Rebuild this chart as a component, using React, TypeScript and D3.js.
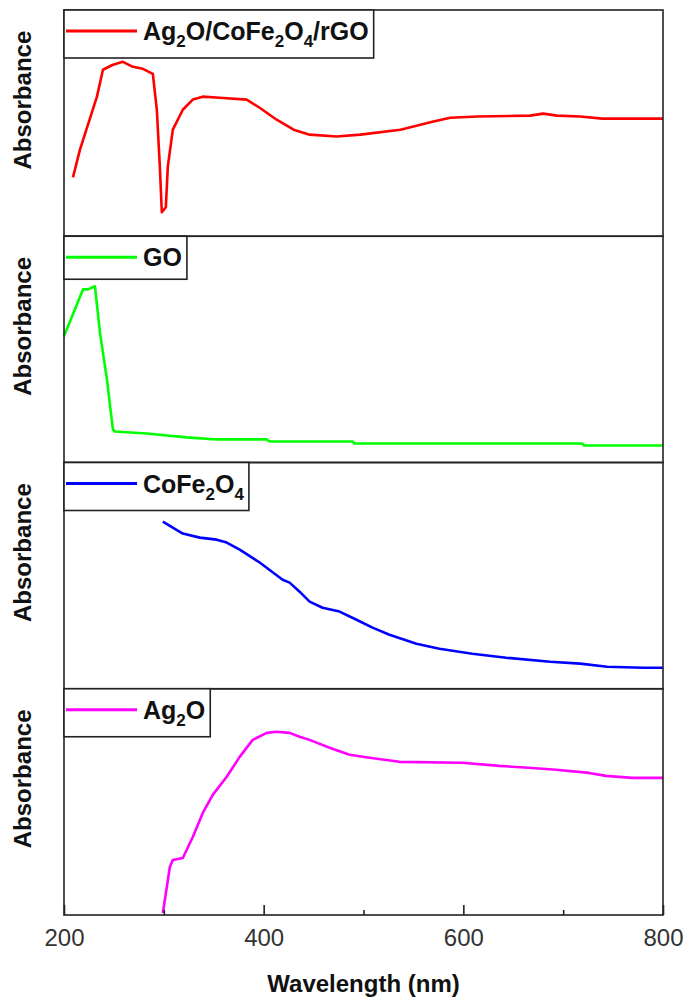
import { useRef, useEffect } from 'react'
import * as d3 from 'd3'

// legend labels (digits become subscripts)
const labels = ['Ag2O/CoFe2O4/rGO', 'GO', 'CoFe2O4', 'Ag2O']
const colors = ['#ff0000', '#00ff00', '#0000ff', '#ff00ff']

// Ag2O/CoFe2O4/rGO
const wlComposite = [209, 216, 233, 239, 249, 259, 269, 279, 289, 293, 296, 298, 302, 304, 309, 319, 329, 339, 356, 383, 396, 413, 430, 446, 473, 497, 537, 570, 587, 614, 667, 680, 694, 717, 739, 800]
const absComposite = [0.26, 0.383, 0.617, 0.736, 0.758, 0.771, 0.749, 0.74, 0.718, 0.559, 0.308, 0.106, 0.128, 0.308, 0.471, 0.559, 0.604, 0.617, 0.612, 0.604, 0.568, 0.515, 0.471, 0.449, 0.441, 0.449, 0.471, 0.507, 0.524, 0.529, 0.533, 0.542, 0.533, 0.529, 0.52, 0.52]

// GO
const wlGO = [200, 219, 224, 231, 236, 243, 249, 251, 283, 303, 323, 353, 403, 406, 489, 491, 719, 721, 800]
const absGO = [0.558, 0.765, 0.765, 0.779, 0.575, 0.367, 0.146, 0.137, 0.128, 0.119, 0.111, 0.102, 0.102, 0.093, 0.093, 0.084, 0.084, 0.075, 0.075]

// CoFe2O4
const wlFerrite = [299, 309, 319, 336, 353, 363, 376, 396, 419, 426, 436, 446, 459, 476, 493, 509, 526, 553, 576, 609, 643, 687, 717, 744, 780, 800]
const absFerrite = [0.739, 0.712, 0.686, 0.668, 0.659, 0.646, 0.615, 0.558, 0.482, 0.469, 0.429, 0.385, 0.358, 0.341, 0.305, 0.27, 0.239, 0.199, 0.177, 0.155, 0.137, 0.119, 0.111, 0.097, 0.093, 0.093]

// Ag2O
const wlAg2O = [299, 303, 306, 309, 319, 329, 339, 349, 363, 376, 389, 403, 413, 426, 436, 446, 466, 486, 506, 536, 599, 636, 669, 693, 726, 743, 769, 800]
const absAg2O = [0.009, 0.124, 0.212, 0.243, 0.252, 0.345, 0.451, 0.531, 0.611, 0.699, 0.774, 0.805, 0.81, 0.805, 0.788, 0.774, 0.739, 0.708, 0.695, 0.677, 0.673, 0.659, 0.65, 0.642, 0.628, 0.615, 0.606, 0.606]

const majorTicks = [200, 400, 600, 800]
const minorTicks = [300, 500, 700]

const W = 689, H = 1004

function App() {
  const ref = useRef<SVGSVGElement>(null)

  useEffect(() => {
    const svg = d3.select(ref.current)
    svg.selectAll('*').remove()

    const left = 64, right = 663, top = 10, bottom = 915
    const ph = (bottom - top) / 4
    const font = '"Liberation Sans", Arial, sans-serif'

    const x = d3.scaleLinear().domain([200, 800]).range([left, right])

    const series = [
      { wl: wlComposite, abs: absComposite },
      { wl: wlGO, abs: absGO },
      { wl: wlFerrite, abs: absFerrite },
      { wl: wlAg2O, abs: absAg2O },
    ]

    series.forEach((s, i) => {
      const y0 = top + i * ph
      const y = d3.scaleLinear().domain([0, 1]).range([y0 + ph, y0])
      const g = svg.append('g')

      const pts = s.wl.map((w, k) => [w, s.abs[k]] as [number, number])
      g.append('path')
        .datum(pts)
        .attr('fill', 'none')
        .attr('stroke', colors[i])
        .attr('stroke-width', 2.6)
        .attr('stroke-linejoin', 'round')
        .attr('d', d3.line<[number, number]>().x(d => x(d[0])).y(d => y(d[1])))

      // panel frame
      g.append('rect')
        .attr('x', left).attr('y', y0)
        .attr('width', right - left).attr('height', ph)
        .attr('fill', 'none').attr('stroke', '#222').attr('stroke-width', 1.6)

      // y title
      g.append('text')
        .attr('transform', `translate(31,${y0 + ph / 2 - 23}) rotate(-90)`)
        .attr('text-anchor', 'middle')
        .style('font', `bold 24px ${font}`)
        .attr('fill', '#111')
        .text('Absorbance')

      // legend
      const lg = g.append('g')
      lg.append('line')
        .attr('x1', left + 2).attr('x2', 137)
        .attr('y1', y0 + 21).attr('y2', y0 + 21)
        .attr('stroke', colors[i]).attr('stroke-width', 3)
      const t = lg.append('text')
        .attr('x', 143).attr('y', y0 + 30)
        .style('font', `bold 25px ${font}`)
        .attr('fill', '#111')
      const parts = labels[i].split(/(\d)/).filter(p => p !== '')
      let shifted = false
      parts.forEach(p => {
        const sub = /^\d$/.test(p)
        const ts = t.append('tspan').text(p)
        if (sub && !shifted) { ts.attr('dy', 7).style('font-size', '17px'); shifted = true }
        else if (sub) ts.style('font-size', '17px')
        else if (shifted) { ts.attr('dy', -7); shifted = false }
      })
      const hasSub = parts.some(p => /^\d$/.test(p))
      const tEnd = 143 + (t.node() as SVGTextElement).getComputedTextLength()
      lg.insert('rect', ':first-child')
        .attr('x', left).attr('y', y0)
        .attr('width', tEnd + 5 - left).attr('height', hasSub ? 48 : 43)
        .attr('fill', 'white').attr('stroke', '#222').attr('stroke-width', 1.6)
    })

    // bottom axis, ticks pointing inward
    const major = svg.append('g').attr('transform', `translate(0,${bottom})`)
      .call(d3.axisBottom(x).tickValues(majorTicks).tickSizeInner(-10).tickSizeOuter(0).tickPadding(14).tickFormat(d3.format('d')))
    major.select('.domain').remove()
    major.selectAll('line').attr('stroke', '#222').attr('stroke-width', 1.6)
    major.selectAll('text').style('font', `24px ${font}`).attr('fill', '#333')

    const minor = svg.append('g').attr('transform', `translate(0,${bottom})`)
      .call(d3.axisBottom(x).tickValues(minorTicks).tickSizeInner(-5).tickSizeOuter(0).tickFormat(() => ''))
    minor.select('.domain').remove()
    minor.selectAll('line').attr('stroke', '#222').attr('stroke-width', 1.6)

    svg.append('text')
      .attr('x', (left + right) / 2).attr('y', 992)
      .attr('text-anchor', 'middle')
      .style('font', `bold 24px ${font}`)
      .attr('fill', '#111')
      .text('Wavelength (nm)')
  }, [])

  return (
    <svg ref={ref} width={W} height={H} viewBox={`0 0 ${W} ${H}`}
      style={{ position: 'absolute', left: 0, top: 0, background: 'white' }} />
  )
}

export default App
